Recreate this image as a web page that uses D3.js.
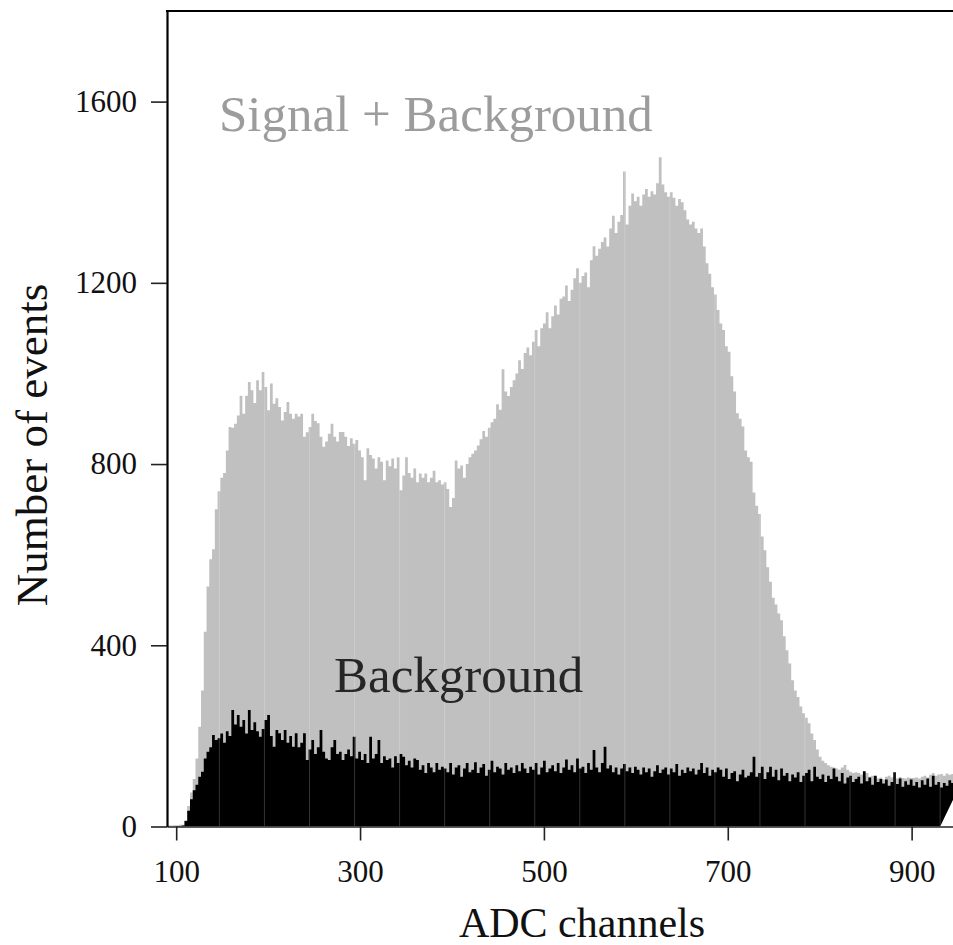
<!DOCTYPE html>
<html>
<head>
<meta charset="utf-8">
<script src="https://cdn.jsdelivr.net/npm/d3@7"></script>
<style>
  body { margin: 0; background: #fff; }
  svg { display: block; }
  text { font-family: "Liberation Serif", "Times New Roman", serif; }
</style>
</head>
<body>
<div id="chart"></div>
<script>
// histogram bins: left edge of first bin and width, in ADC channels
const binStart = 91;
const binWidth = 3;

// Signal + Background counts per bin
const totalCounts = [
    2, 2, 3, 3, 4, 4, 14, 45, 75, 105,
    150, 220, 300, 430, 530, 590, 612, 700, 740, 770,
    780, 830, 882, 880, 889, 907, 951, 911, 951, 981,
    963, 935, 985, 963, 1003, 970, 919, 978, 933, 945,
    926, 896, 915, 937, 911, 900, 911, 905, 911, 860,
    870, 882, 911, 895, 890, 860, 838, 850, 867, 889,
    860, 850, 871, 871, 860, 840, 857, 845, 853, 830,
    815, 764, 835, 820, 812, 790, 815, 805, 764, 808,
    795, 812, 790, 815, 742, 775, 815, 780, 770, 790,
    760, 779, 770, 779, 760, 770, 785, 760, 764, 755,
    760, 745, 705, 725, 808, 790, 797, 770, 800, 815,
    823, 830, 841, 855, 873, 860, 880, 892, 900, 932,
    920, 1009, 960, 950, 970, 985, 1000, 1029, 1010, 1045,
    1057, 1040, 1070, 1096, 1060, 1100, 1110, 1135, 1100, 1126,
    1150, 1130, 1165, 1170, 1194, 1160, 1185, 1210, 1232, 1200,
    1215, 1223, 1190, 1250, 1281, 1260, 1275, 1290, 1300, 1280,
    1320, 1348, 1310, 1335, 1350, 1446, 1329, 1370, 1397, 1380,
    1390, 1370, 1395, 1407, 1390, 1402, 1395, 1420, 1477, 1417,
    1400, 1390, 1400, 1388, 1370, 1385, 1378, 1360, 1340, 1329,
    1335, 1320, 1310, 1320, 1280, 1243, 1220, 1190, 1174, 1140,
    1110, 1096, 1060, 1048, 994, 960, 912, 900, 883, 830,
    815, 805, 737, 708, 690, 640, 610, 572, 540, 505,
    490, 470, 455, 420, 389, 360, 323, 300, 286, 265,
    250, 240, 228, 205, 191, 170, 154, 145, 140, 135,
    132, 130, 128, 125, 130, 136, 125, 121, 118, 120,
    118, 115, 112, 118, 110, 112, 110, 106, 108, 104,
    110, 112, 108, 110, 106, 109, 107, 106, 108, 107,
    107, 108, 106, 110, 112, 108, 114, 118, 112, 115,
    116, 112, 117, 114, 116, 112
];

// Background counts per bin
const backgroundCounts = [
    0, 0, 0, 1, 1, 2, 12, 35, 60, 80,
    92, 110, 121, 150, 165, 175, 202, 191, 195, 205,
    185, 210, 200, 257, 225, 246, 220, 235, 205, 257,
    213, 230, 210, 198, 215, 235, 246, 200, 176, 213,
    206, 191, 213, 185, 200, 176, 206, 175, 185, 206,
    147, 170, 191, 160, 175, 213, 165, 150, 147, 175,
    191, 160, 165, 147, 160, 170, 155, 198, 150, 165,
    147, 160, 140, 198, 150, 160, 191, 140, 155, 147,
    150, 130, 155, 140, 160, 154, 135, 145, 130, 150,
    147, 125, 135, 118, 140, 130, 120, 140, 125, 132,
    128, 120, 140, 115, 130, 135, 110, 128, 140, 120,
    125, 142, 118, 130, 138, 112, 125, 145, 120, 132,
    128, 115, 140, 125, 130, 118, 135, 122, 140, 128,
    118, 132, 125, 140, 115, 130, 145, 120, 128, 135,
    122, 140, 118, 130, 148, 125, 135, 120, 150, 128,
    132, 118, 140, 125, 169, 130, 120, 140, 176, 128,
    135, 120, 130, 115, 128, 138, 122, 130, 118, 132,
    125, 115, 130, 120, 128, 110, 122, 135, 118, 126,
    130, 115, 128, 120, 138, 112, 125, 118, 130, 122,
    128, 115, 125, 140, 118, 130, 112, 125, 120, 130,
    125, 110, 128, 105, 118, 122, 100, 115, 125, 108,
    112, 120, 154, 110, 118, 132, 105, 120, 132, 110,
    125, 102, 128, 112, 118, 100, 115, 108, 120, 98,
    112, 118, 125, 100, 132, 110, 105, 115, 98, 112,
    105, 128, 110, 100, 118, 95, 108, 112, 98, 105,
    110, 95, 122, 100, 108, 92, 112, 98, 105, 95,
    104, 90, 98, 120, 94, 106, 88, 100, 92, 104,
    90, 98, 86, 102, 92, 106, 88, 112, 92, 98,
    86, 96, 90, 102, 96, 106
];

// both fills return to the axis along a slant at the right end: [channel, count]
const fillClose = [[949, 76], [931, 0]];

// faint seams in the printed image
const seamChannels = [147, 196, 245, 294, 343, 392, 441, 490, 539, 588, 637, 686, 735, 784, 833, 882, 931];

const xTicks = [100, 300, 500, 700, 900];
const yTicks = [0, 400, 800, 1200, 1600];

const width = 953, height = 945;
const plotLeft = 167, plotRight = 953, plotTop = 11, plotBottom = 826.5;

const svg = d3.select('#chart')
    .append('svg')
    .attr('width', width)
    .attr('height', height);

const x = d3.scaleLinear().domain([90, 945]).range([plotLeft, plotRight]);
const y = d3.scaleLinear().domain([0, 1800]).range([plotBottom, plotTop]);

svg.append('clipPath')
    .attr('id', 'plot-clip')
    .append('rect')
    .attr('x', plotLeft)
    .attr('y', plotTop)
    .attr('width', plotRight - plotLeft)
    .attr('height', plotBottom - plotTop);

const plot = svg.append('g').attr('clip-path', 'url(#plot-clip)');

// histogram outline as a polygon: steps on top, slanted return, baseline back
function histPolygon(counts) {
    const pts = [[binStart, 0]];
    counts.forEach((v, i) => {
        const c0 = binStart + i * binWidth;
        pts.push([c0, v], [c0 + binWidth, v]);
    });
    fillClose.forEach(p => pts.push(p));
    return pts;
}

const line = d3.line().x(d => x(d[0])).y(d => y(d[1]));

plot.append('path')
    .attr('fill', '#c0c0c0')
    .attr('d', line(histPolygon(totalCounts)) + 'Z');

plot.append('path')
    .attr('fill', '#000')
    .attr('d', line(histPolygon(backgroundCounts)) + 'Z');

plot.append('g')
    .selectAll('line')
    .data(seamChannels)
    .join('line')
    .attr('x1', d => x(d))
    .attr('x2', d => x(d))
    .attr('y1', y(0))
    .attr('y2', y(1800))
    .attr('stroke', '#fff')
    .attr('stroke-opacity', 0.2)
    .attr('stroke-width', 1);

// axes
const xAxis = svg.append('g')
    .attr('transform', `translate(0,${plotBottom})`)
    .call(d3.axisBottom(x).tickValues(xTicks).tickFormat(d3.format('d'))
        .tickSize(14).tickSizeOuter(0).tickPadding(19));
xAxis.select('.domain').attr('stroke', '#222').attr('stroke-width', 1.6);
xAxis.selectAll('.tick line').attr('stroke', '#222').attr('stroke-width', 1.6);
xAxis.selectAll('.tick text')
    .attr('font-size', 31)
    .attr('fill', '#111');

const yAxis = svg.append('g')
    .attr('transform', `translate(${plotLeft},0)`)
    .call(d3.axisLeft(y).tickValues(yTicks).tickFormat(d3.format('d'))
        .tickSize(16).tickSizeOuter(0).tickPadding(14));
yAxis.select('.domain').attr('stroke', '#000').attr('stroke-width', 2.2);
yAxis.selectAll('.tick line').attr('stroke', '#222').attr('stroke-width', 1.6);
yAxis.selectAll('.tick text')
    .attr('font-size', 31)
    .attr('fill', '#111');

svg.append('line')
    .attr('x1', plotLeft - 1)
    .attr('x2', plotRight)
    .attr('y1', plotTop)
    .attr('y2', plotTop)
    .attr('stroke', '#000')
    .attr('stroke-width', 2.2);

// labels
svg.append('text')
    .attr('x', 582)
    .attr('y', 937)
    .attr('text-anchor', 'middle')
    .attr('font-size', 42)
    .attr('fill', '#111')
    .text('ADC channels');

svg.append('text')
    .attr('transform', 'translate(47,445) rotate(-90)')
    .attr('text-anchor', 'middle')
    .attr('font-size', 45)
    .attr('fill', '#111')
    .text('Number of events');

svg.append('text')
    .attr('x', 219)
    .attr('y', 131)
    .attr('font-size', 51)
    .attr('fill', '#9c9c9c')
    .text('Signal + Background');

svg.append('text')
    .attr('x', 334)
    .attr('y', 692)
    .attr('font-size', 51)
    .attr('fill', '#262626')
    .text('Background');
</script>
</body>
</html>
